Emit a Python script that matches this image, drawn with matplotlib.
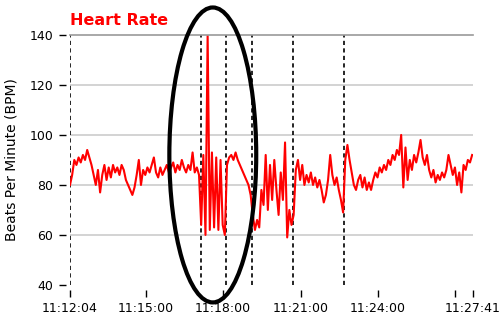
import matplotlib
matplotlib.use("Agg")
import matplotlib.pyplot as plt
from matplotlib.patches import Ellipse
import pandas as pd

start = "11:12:04"
step_s = 5
bpm = [
    80, 84, 90, 88, 91, 89, 92, 90, 94, 91, 88, 84, 80, 86, 77, 84, 88, 82, 87, 83,
    88, 85, 87, 84, 88, 86, 82, 80, 78, 76, 79, 84, 90, 80, 86, 84, 87, 85, 88, 91,
    85, 83, 87, 84, 86, 88, 85, 87, 89, 85, 88, 86, 90, 87, 85, 88, 86, 93, 85, 87,
    84, 64, 92, 60, 140, 62, 93, 63, 91, 62, 90, 64, 60, 88, 91, 92, 90, 93, 90, 88,
    86, 84, 82, 80, 76, 68, 62, 66, 63, 78, 72, 92, 70, 88, 74, 90, 78, 68, 85, 74,
    97, 59, 70, 64, 68, 86, 90, 82, 88, 80, 84, 81, 85, 80, 83, 79, 82, 78, 73, 76,
    82, 92, 84, 80, 83, 78, 74, 69, 90, 96, 90, 85, 80, 78, 82, 84, 79, 83, 78, 81,
    78, 82, 85, 83, 87, 85, 88, 86, 90, 88, 92, 90, 94, 92, 100, 79, 95, 82, 90, 86,
    92, 89, 93, 98, 91, 88, 92, 86, 83, 86, 81, 84, 82, 85, 83, 86, 92, 88, 84, 87,
    80, 85, 77, 88, 86, 90, 89, 92,
]
end = "11:27:41"
tick_times = ["11:12:04", "11:15:00", "11:18:00", "11:21:00", "11:24:00", "11:27:00", "11:27:41"]
tick_labels = ["11:12:04", "11:15:00", "11:18:00", "11:21:00", "11:24:00", "", "11:27:41"]
marker_times = ["11:12:04", "11:17:09", "11:18:07", "11:19:06", "11:20:43", "11:22:42"]
y_ticks = [40, 60, 80, 100, 120, 140]
grid_levels = [60, 80, 100, 120]


def secs(t):
    return (pd.to_timedelta(t) - pd.to_timedelta(start)).total_seconds()


t = [i * step_s for i in range(len(bpm))]

fig = plt.figure(figsize=(5, 3.18), dpi=100)
ax = fig.add_axes([0.14, 0.104, 0.806, 0.786])

for g in grid_levels:
    ax.axhline(g, color="#c8c8c8", lw=1.1, zorder=0)

for m in marker_times:
    ax.axvline(secs(m), color="black", lw=1.2, ls=(0, (2.5, 2)), zorder=1)

ax.plot(t, bpm, color="red", lw=1.5, zorder=2)

ax.set_xlim(0, secs(end))
ax.set_ylim(40, 140)

ax.set_xticks([secs(x) for x in tick_times])
ax.set_xticklabels(tick_labels)
ax.set_yticks(y_ticks)

ax.spines["right"].set_visible(False)
ax.spines["top"].set_color("#999999")
ax.spines["top"].set_linewidth(1.2)
ax.spines["left"].set_position(("outward", 3))
ax.spines["bottom"].set_position(("outward", 4))
ax.spines["left"].set_visible(False)
ax.spines["bottom"].set_visible(False)
ax.tick_params(axis="both", length=5, width=1, labelsize=9, color="black")
ax.tick_params(axis="y", pad=4)
ax.tick_params(axis="x", pad=3)

ax.set_ylabel("Beats Per Minute (BPM)", fontsize=10, labelpad=8)
fig.text(0.14, 0.922, "Heart Rate", color="red", fontsize=11.5,
         fontweight="bold", ha="left", va="baseline")

# highlight ring around the irregular beats
ring = Ellipse((secs("11:17:36"), 92), 202, 118, fill=False,
               edgecolor="black", lw=3, clip_on=False, zorder=5)
ax.add_patch(ring)

fig.savefig("out.png", dpi=100)
